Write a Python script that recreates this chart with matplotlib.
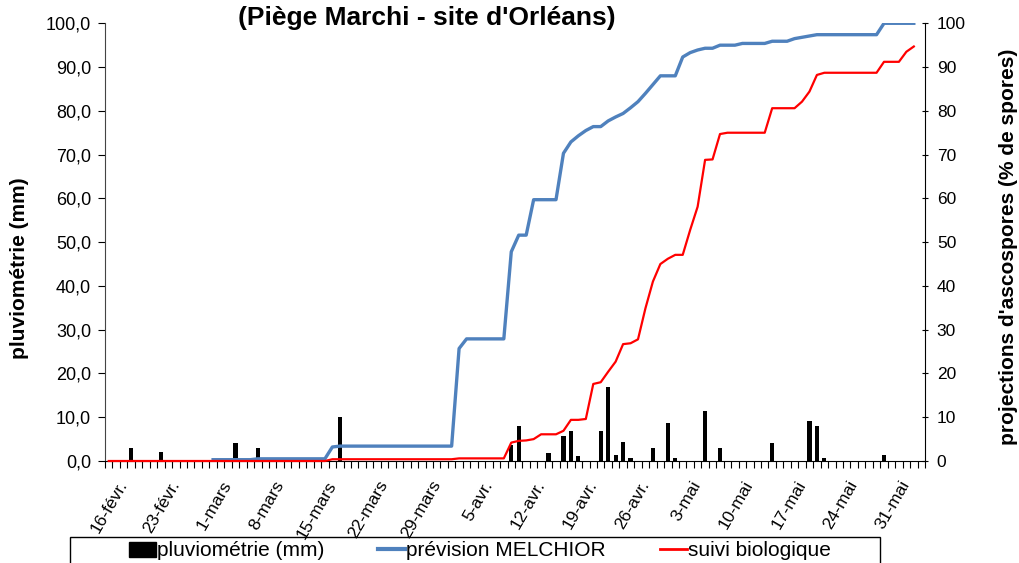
import numpy as np
import matplotlib
matplotlib.use("Agg")
import matplotlib.pyplot as plt
from matplotlib.patches import Patch, Rectangle
from matplotlib.lines import Line2D

plt.rcParams['font.family'] = ['Liberation Sans', 'DejaVu Sans']

# --- DATA (one slot per day, 14 Feb -> 3 June) ---
N_DAYS = 110
date_labels = ['16-févr.', '23-févr.', '1-mars', '8-mars', '15-mars', '22-mars',
               '29-mars', '5-avr.', '12-avr.', '19-avr.', '26-avr.', '3-mai',
               '10-mai', '17-mai', '24-mai', '31-mai']
label_days = [2 + 7 * k for k in range(len(date_labels))]

# pluviométrie (mm)
rain_days = [3, 7, 17, 20, 31, 54, 55, 59, 61, 62, 63, 66, 67, 68, 69, 70,
             73, 75, 76, 80, 82, 89, 94, 95, 96, 104]
rain_mm = [3.0, 2.0, 4.2, 3.0, 10.1, 3.7, 8.0, 1.9, 5.6, 6.9, 1.1, 6.9, 17.0,
           1.4, 4.4, 0.6, 3.0, 8.6, 0.6, 11.5, 3.0, 4.2, 9.1, 8.0, 0.6, 1.4]

# prévision MELCHIOR (% cumulé), days 14..108
melchior_start = 14
melchior = [0.3, 0.3, 0.3, 0.3, 0.3, 0.3,
            0.5, 0.5, 0.5, 0.5, 0.5, 0.5, 0.5, 0.5, 0.5, 0.5,
            3.2,
            3.4, 3.4, 3.4, 3.4, 3.4, 3.4, 3.4, 3.4, 3.4, 3.4, 3.4, 3.4, 3.4, 3.4, 3.4, 3.4,
            25.7,
            27.9, 27.9, 27.9, 27.9, 27.9, 27.9,
            47.8, 51.6, 51.6,
            59.7, 59.7, 59.7, 59.7,
            70.3, 72.9, 74.3, 75.5, 76.4, 76.4, 77.7, 78.6, 79.4, 80.7, 82.1, 84.0, 86.0,
            88.0, 88.0, 88.0,
            92.3, 93.3, 93.9,
            94.3, 94.3,
            95.0, 95.0, 95.0,
            95.4, 95.4, 95.4, 95.4,
            95.9, 95.9, 95.9,
            96.5, 96.8, 97.1,
            97.4, 97.4, 97.4, 97.4, 97.4, 97.4, 97.4, 97.4, 97.4,
            100, 100, 100, 100, 100]

# suivi biologique (% cumulé), days 0..108
suivi = [0.0] * 30 + [0.4] * 17 + [0.6] * 7 + [
    4.2, 4.6, 4.7, 5.0, 6.1, 6.1, 6.1, 6.9, 9.4, 9.4, 9.6, 17.6, 18.0, 20.4,
    22.7, 26.7, 26.9, 27.8, 34.9, 41.0, 45.0, 46.2, 47.1, 47.1, 52.8, 58.1,
    68.8, 68.9, 74.7,
    75.0, 75.0, 75.0, 75.0, 75.0, 75.0,
    80.6, 80.6, 80.6, 80.6,
    82.1, 84.4, 88.2,
    88.7, 88.7, 88.7, 88.7, 88.7, 88.7, 88.7, 88.7,
    91.2, 91.2, 91.2,
    93.5, 94.7]

W, H = 1019, 563
fig = plt.figure(figsize=(W / 100, H / 100), dpi=100)
ax = fig.add_axes([105 / W, 1 - 461 / H, 820 / W, (461 - 23.3) / H])
ax2 = ax.twinx()

# rain bars (left axis)
ax.bar(np.array(rain_days) + 0.5, rain_mm, width=0.55, color='black', zorder=2)

# cumulative curves (right axis)
x_mel = np.arange(melchior_start, melchior_start + len(melchior)) + 0.5
x_sui = np.arange(len(suivi)) + 0.5
ax2.plot(x_mel, melchior, color='#4F81BD', lw=2.4, solid_joinstyle='round', zorder=3)
ax2.plot(x_sui, suivi, color='#FF0000', lw=1.6, clip_on=False, zorder=4)

ax.set_xlim(0, N_DAYS)
ax.set_ylim(0, 100)
ax2.set_ylim(0, 100)

# x axis: a tick per day boundary, labels every week
ax.set_xticks(np.arange(0, N_DAYS + 1), minor=True)
ax.set_xticks(np.array(label_days) + 0.5)
ax.set_xticklabels(date_labels, rotation=60, ha='right', va='center',
                   rotation_mode='anchor', fontsize=12.5)
ax.tick_params(axis='x', which='major', length=0, pad=15)
ax.tick_params(axis='x', which='minor', length=5, width=0.8, direction='out')

yt = np.arange(0, 101, 10)
ax.set_yticks(yt)
ax.set_yticklabels([f"{v:.1f}".replace('.', ',') for v in yt], fontsize=13)
ax.tick_params(axis='y', length=5, width=0.8, direction='out', pad=5)
ax2.set_yticks(yt)
ax2.set_yticklabels([str(v) for v in yt], fontsize=12.5)
ax2.tick_params(axis='y', length=5, width=0.8, direction='inout', pad=6)

for a in (ax, ax2):
    a.spines['top'].set_visible(False)
ax.spines['right'].set_visible(False)
ax.spines['left'].set_color('#444444')
ax2.spines['left'].set_visible(False)
ax2.spines['bottom'].set_visible(False)

fig.text(20 / W, 1 - 268 / H, 'pluviométrie (mm)', rotation=90, ha='center',
         va='center', fontsize=15, fontweight='bold')
fig.text(1009 / W, 1 - 247 / H, "projections d'ascospores (% de spores)",
         rotation=90, ha='center', va='center', fontsize=15, fontweight='bold')
fig.text(427 / W, 1 - 18 / H, "(Piège Marchi - site d'Orléans)", ha='center',
         va='center', fontsize=19, fontweight='bold')

handles = [Patch(facecolor='black', edgecolor='black'),
           Line2D([], [], color='#4F81BD', lw=3),
           Line2D([], [], color='#FF0000', lw=2)]
labels = ['pluviométrie (mm)', 'prévision MELCHIOR', 'suivi biologique']
fig.legend(handles, labels, loc='center', bbox_to_anchor=(480 / W, 1 - 551 / H),
           ncol=3, frameon=False, fontsize=15, handlelength=1.3,
           handletextpad=0.05, columnspacing=2.6, borderaxespad=0)
fig.add_artist(Rectangle((70 / W, -0.02), 810 / W, (563 - 537) / H + 0.02,
                         transform=fig.transFigure, fill=False,
                         edgecolor='black', lw=1))

fig.savefig('out.png', dpi=100)
